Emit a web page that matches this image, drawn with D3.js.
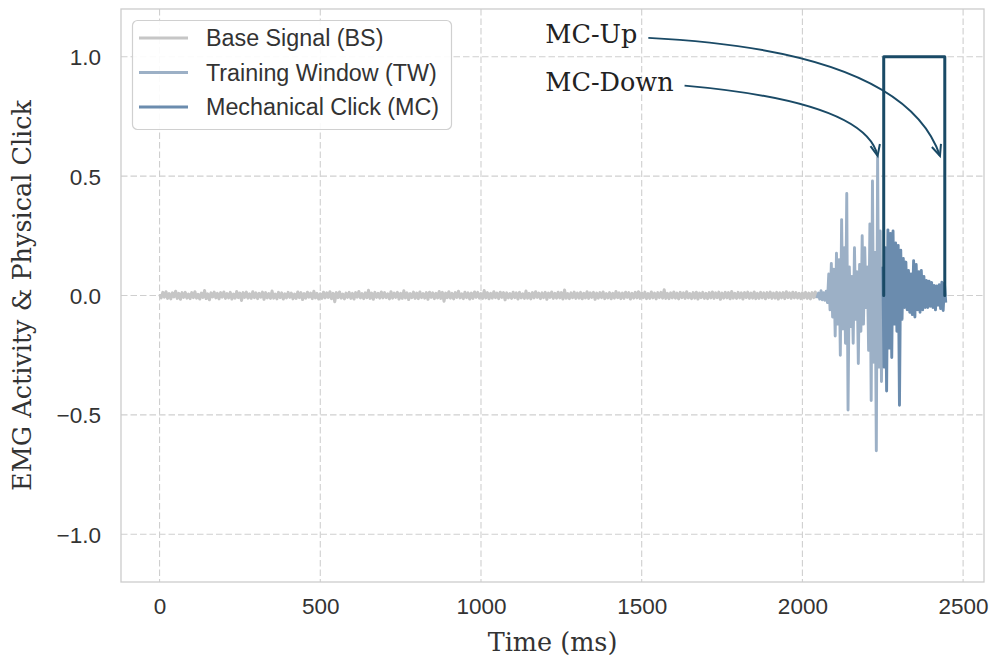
<!DOCTYPE html>
<html>
<head>
<meta charset="utf-8">
<script src="https://cdn.jsdelivr.net/npm/d3@7"></script>
<style>
  body { margin: 0; background: #ffffff; }
  svg { display: block; }
</style>
</head>
<body>
<svg id="chart" width="993" height="660"></svg>
<script>
// ---- data -------------------------------------------------------------
const xTicks = [0, 500, 1000, 1500, 2000, 2500];
const yTicks = [-1.0, -0.5, 0.0, 0.5, 1.0];

// Base signal (resting EMG), sampled every 5 ms from 0 ms
const baseStart = 0, baseStep = 5;
const baseValues = [
  .005,-.010,.013,-.007,.016,-.012,.008,-.014,.011,-.006,.018,-.012,.009,-.016,.012,-.008,.013,-.011,.006,-.013,
  .012,-.009,.016,-.011,.005,-.015,.010,-.008,.021,-.013,.007,-.018,.011,-.006,.014,-.010,.009,-.014,.012,-.007,
  .015,-.012,.008,-.010,.013,-.015,.006,-.011,.017,-.009,.010,-.021,.012,-.008,.014,-.011,.007,-.012,.016,-.009,
  .011,-.013,.009,-.007,.014,-.016,.012,-.010,.008,-.012,.019,-.011,.006,-.014,.013,-.009,.011,-.015,.007,-.010,
  .013,-.008,.010,-.014,.006,-.012,.015,-.009,.012,-.017,.008,-.011,.014,-.007,.010,-.013,.018,-.010,.009,-.015,
  .007,-.012,.014,-.010,.011,-.008,.016,-.013,.009,-.026,.012,-.009,.015,-.011,.006,-.014,.010,-.008,.013,-.012,
  .009,-.015,.012,-.007,.017,-.010,.008,-.013,.011,-.009,.022,-.012,.010,-.016,.013,-.008,.009,-.011,.015,-.010,
  .012,-.009,.007,-.014,.016,-.011,.010,-.008,.013,-.015,.009,-.012,.020,-.010,.011,-.017,.008,-.009,.014,-.012,
  .010,-.013,.015,-.009,.008,-.011,.012,-.016,.014,-.008,.011,-.013,.009,-.010,.017,-.012,.013,-.024,.010,-.009,
  .016,-.011,.009,-.014,.012,-.008,.018,-.010,.007,-.013,.014,-.009,.011,-.015,.010,-.012,.015,-.008,.013,-.011,
  .008,-.012,.021,-.010,.012,-.014,.009,-.011,.016,-.009,.010,-.013,.014,-.008,.012,-.018,.011,-.010,.008,-.012,
  .014,-.009,.011,-.015,.013,-.010,.007,-.012,.019,-.011,.009,-.014,.012,-.010,.016,-.008,.010,-.013,.011,-.009,
  .013,-.016,.010,-.008,.015,-.012,.009,-.011,.014,-.010,.012,-.015,.023,-.011,.008,-.013,.011,-.009,.014,-.012,
  .010,-.011,.013,-.014,.009,-.010,.016,-.012,.011,-.008,.013,-.016,.010,-.011,.012,-.009,.015,-.013,.008,-.010,
  .012,-.014,.009,-.011,.017,-.009,.011,-.013,.010,-.012,.014,-.008,.012,-.015,.009,-.011,.013,-.010,.016,-.012,
  .011,-.009,.014,-.013,.008,-.012,.015,-.010,.010,-.014,.012,-.009,.013,-.011,.024,-.012,.009,-.013,.011,-.010,
  .015,-.011,.010,-.014,.013,-.009,.011,-.012,.016,-.010,.008,-.013,.012,-.011,.014,-.015,.010,-.009,.013,-.012,
  .009,-.013,.012,-.010,.015,-.012,.011,-.009,.014,-.016,.010,-.011,.013,-.010,.012,-.014,.017,-.011,.009,-.012,
  .013,-.010,.011,-.015,.012,-.009,.014,-.012,.010,-.011,.015,-.013,.009,-.012,.013,-.010,.011,-.014,.012,-.009,
  .014,-.012,.010,-.011,.013,-.015,.011,-.010,.012,-.013,.016,-.009,.011,-.012,.014,-.010,.012,-.011,.009,-.013,
  .011,-.010,.013,-.012,.010,-.014,.012,-.009,.015,-.011
];

// Training window (burst onset), sampled every 4 ms from 2050 ms
const twStart = 2050, twStep = 4;
const twValues = [
  .010,-.015,.020,-.018,.012,-.020,.018,-.030,.090,-.060,
  .134,-.090,.110,-.170,.177,-.120,.150,-.250,.318,-.140,
  .200,-.200,.427,-.480,.120,-.130,.080,-.200,.200,-.100,
  .100,-.285,.130,-.150,.250,-.120,.200,-.050,.120,-.230,
  .300,-.440,.480,-.280,.180,-.650,.580,-.300,.270,-.360,
  .120
];

// Mechanical click window (decaying burst), sampled every 4 ms from 2250 ms
const mcStart = 2250, mcStep = 4;
const mcValues = [
  .120,-.300,.200,-.400,.275,-.220,.260,-.260,.270,-.120,
  .220,-.150,.210,-.460,.190,-.100,.155,-.050,.140,-.060,
  .105,-.070,.090,-.080,.146,-.090,.130,-.060,.100,-.070,
  .105,-.060,.080,-.050,.063,-.050,.060,-.045,.055,-.050,
  .042,-.060,.040,-.040,.045,-.055,.056,-.063,.050,-.030
];

// Physical click state (0 = released, 1 = pressed)
const clickTimes  = [2253, 2253, 2443, 2443];
const clickValues = [0, 1, 1, 0];

const seriesNames  = ["Base Signal (BS)", "Training Window (TW)", "Mechanical Click (MC)"];
const seriesColors = ["#c6c6c6", "#9cb0c6", "#6b8cae"];
const clickColor   = "#1a4a66";

// Annotation callouts: label anchor, arrow target and curve control point (data units)
const annotations = [
  { label: "MC-Up",   textX: 1200, textY: 1.1, ctrlX: 2317, ctrlY: 1.025, targetX: 2428, targetY: 0.585 },
  { label: "MC-Down", textX: 1200, textY: 0.9, ctrlX: 2196, ctrlY: 0.812, targetX: 2234, targetY: 0.585 }
];

// ---- layout ------------------------------------------------------------
const svg = d3.select("#chart");
const plot = { left: 121, right: 984, top: 9, bottom: 582 };

const x = d3.scaleLinear().domain([-120, 2565]).range([plot.left, plot.right]);
const y = d3.scaleLinear().domain([-1.2, 1.2]).range([plot.bottom, plot.top]);

const sansFont  = "'Liberation Sans', Arial, sans-serif";
const serifFont = "'DejaVu Serif', serif";

// background
svg.append("rect").attr("width", 993).attr("height", 660).attr("fill", "#ffffff");

// grid
const grid = svg.append("g").attr("stroke", "#cfcfcf").attr("stroke-width", 1.1)
  .attr("stroke-dasharray", "6.5,3").attr("fill", "none");
grid.selectAll("line.vx").data(xTicks).join("line")
  .attr("x1", d => x(d)).attr("x2", d => x(d))
  .attr("y1", plot.top).attr("y2", plot.bottom);
grid.selectAll("line.hy").data(yTicks).join("line")
  .attr("y1", d => y(d)).attr("y2", d => y(d))
  .attr("x1", plot.left).attr("x2", plot.right);

// axes (labels only, no tick marks)
const xAxis = d3.axisBottom(x).tickValues(xTicks).tickSize(0).tickPadding(0)
  .tickFormat(d3.format("d"));
const yAxis = d3.axisLeft(y).tickValues(yTicks).tickSize(0).tickPadding(0)
  .tickFormat(d => d3.format(".1f")(d).replace("-", "\u2212"));

const gx = svg.append("g").attr("transform", `translate(0,${plot.bottom})`).call(xAxis);
gx.select(".domain").remove();
gx.selectAll("text").attr("y", 32).attr("dy", null)
  .attr("font-family", sansFont).attr("font-size", 22.5).attr("fill", "#333333");

const gy = svg.append("g").attr("transform", `translate(${plot.left},0)`).call(yAxis);
gy.select(".domain").remove();
gy.selectAll("text").attr("x", -20).attr("dy", "0.36em")
  .attr("font-family", sansFont).attr("font-size", 22.5).attr("fill", "#333333");

// axis titles
svg.append("text").attr("x", (plot.left + plot.right) / 2).attr("y", 651)
  .attr("text-anchor", "middle").attr("font-family", serifFont).attr("font-size", 25.5)
  .attr("fill", "#333333").text("Time (ms)");
svg.append("text").attr("transform", `translate(31,${(plot.top + plot.bottom) / 2}) rotate(-90)`)
  .attr("text-anchor", "middle").attr("font-family", serifFont).attr("font-size", 25.5)
  .attr("fill", "#333333").text("EMG Activity & Physical Click");

// ---- signal traces -----------------------------------------------------
const toPoints = (start, step, values) => values.map((v, i) => [start + i * step, v]);
const basePts = toPoints(baseStart, baseStep, baseValues);
const twPts   = [basePts[basePts.length - 1]].concat(toPoints(twStart, twStep, twValues));
const mcPts   = toPoints(mcStart, mcStep, mcValues);

const line = d3.line().x(d => x(d[0])).y(d => y(d[1]));
const traces = svg.append("g").attr("fill", "none")
  .attr("stroke-linejoin", "round").attr("stroke-linecap", "butt");

const traceWidths = [3, 2.9, 2.9];
[basePts, twPts, mcPts].forEach((pts, i) => {
  traces.append("path").datum(pts)
    .attr("d", line)
    .attr("stroke", seriesColors[i])
    .attr("stroke-width", traceWidths[i]);
});

// click state square
const clickPts = clickTimes.map((t, i) => [t, clickValues[i]]);
svg.append("path").datum(clickPts).attr("d", line)
  .attr("fill", "none").attr("stroke", clickColor).attr("stroke-width", 3)
  .attr("stroke-linejoin", "round").attr("stroke-linecap", "round");

// frame
svg.append("rect").attr("x", plot.left).attr("y", plot.top)
  .attr("width", plot.right - plot.left).attr("height", plot.bottom - plot.top)
  .attr("fill", "none").attr("stroke", "#cccccc").attr("stroke-width", 1.3);

// ---- annotations -------------------------------------------------------
const ann = svg.append("g");
annotations.forEach(a => {
  const tx = x(a.textX), ty = y(a.textY);
  const t = ann.append("text").attr("x", tx).attr("y", ty + 10.3)
    .attr("font-family", serifFont).attr("font-size", 25.5).attr("fill", "#222222")
    .text(a.label);
  const w = t.node().getComputedTextLength();
  const p0 = [tx + w + 11, ty + 5];
  const p1 = [x(a.ctrlX), y(a.ctrlY)];
  const p2 = [x(a.targetX), y(a.targetY)];
  const path = d3.path();
  path.moveTo(p0[0], p0[1]);
  path.quadraticCurveTo(p1[0], p1[1], p2[0], p2[1]);
  ann.append("path").attr("d", path.toString()).attr("fill", "none")
    .attr("stroke", clickColor).attr("stroke-width", 2);
  // open arrow head along the end tangent
  const dx = p2[0] - p1[0], dy = p2[1] - p1[1];
  const len = Math.hypot(dx, dy);
  const ux = dx / len, uy = dy / len;
  const hl = 11, hw = 4.8;
  const bx = p2[0] - ux * hl, by = p2[1] - uy * hl;
  const head = d3.path();
  head.moveTo(bx - uy * hw, by + ux * hw);
  head.lineTo(p2[0], p2[1]);
  head.lineTo(bx + uy * hw, by - ux * hw);
  ann.append("path").attr("d", head.toString()).attr("fill", "none")
    .attr("stroke", clickColor).attr("stroke-width", 2)
    .attr("stroke-linejoin", "miter");
});

// ---- legend ------------------------------------------------------------
const legend = svg.append("g");
legend.append("rect").attr("x", 132.5).attr("y", 20.5).attr("width", 319).attr("height", 109)
  .attr("rx", 5).attr("fill", "#ffffff").attr("fill-opacity", 0.9)
  .attr("stroke", "#d0d0d0").attr("stroke-width", 1.2);
const rows = legend.selectAll("g.row").data(seriesNames).join("g")
  .attr("transform", (d, i) => `translate(0,${38 + i * 34.5})`);
rows.append("line").attr("x1", 139).attr("x2", 188).attr("y1", 0).attr("y2", 0)
  .attr("stroke", (d, i) => seriesColors[i]).attr("stroke-width", 3);
rows.append("text").attr("x", 206).attr("y", 0).attr("dy", "0.36em")
  .attr("font-family", sansFont).attr("font-size", 23.3).attr("fill", "#333333")
  .text(d => d);
</script>
</body>
</html>
